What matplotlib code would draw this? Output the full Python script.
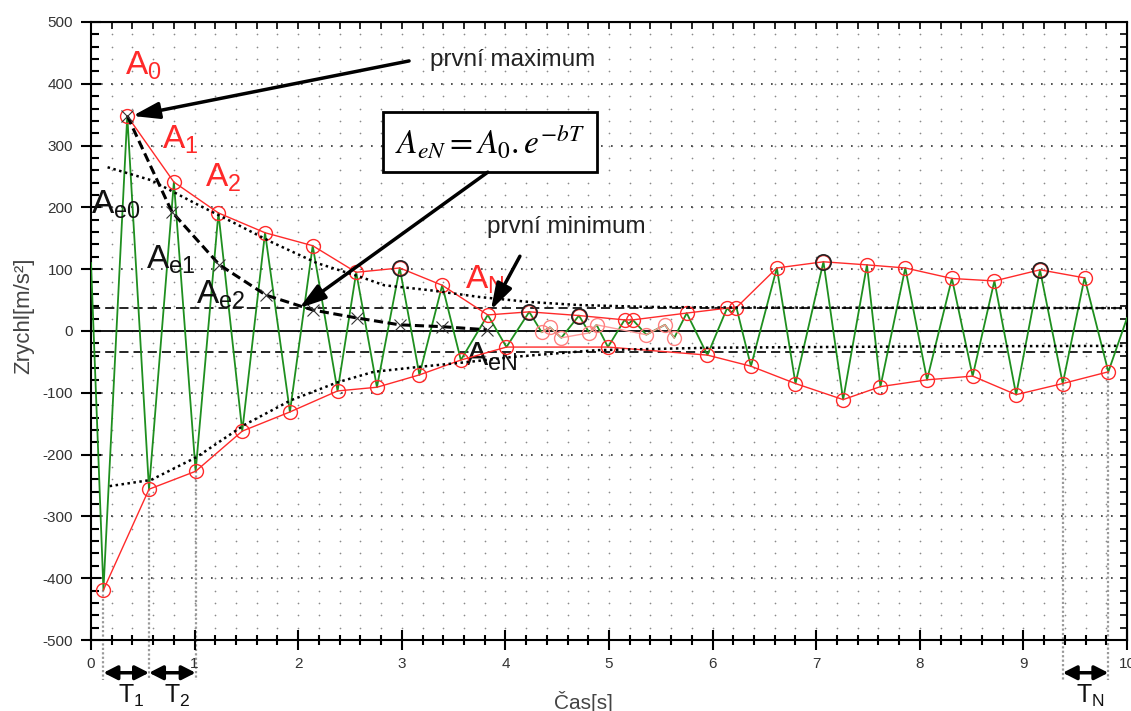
import matplotlib
matplotlib.use("Agg")
import matplotlib.pyplot as plt
import numpy as np

plt.rcParams['font.family'] = ['Liberation Sans', 'DejaVu Sans']
plt.rcParams['mathtext.fontset'] = 'stix'

# measured signal (local extrema of the acceleration record)
t_sig = [0.0, 0.12, 0.35, 0.56, 0.80, 1.01, 1.23, 1.46, 1.68, 1.92, 2.14, 2.38, 2.56, 2.76,
         2.98, 3.17, 3.39, 3.57, 3.83, 4.01, 4.23, 4.35, 4.43, 4.54, 4.71, 4.81, 4.88, 4.99,
         5.15, 5.19, 5.23, 5.36, 5.54, 5.63, 5.75, 5.95, 6.14, 6.18, 6.23, 6.37, 6.62, 6.80,
         7.07, 7.26, 7.49, 7.62, 7.86, 8.07, 8.31, 8.51, 8.72, 8.93, 9.16, 9.38, 9.59, 9.82, 10.0]
a_sig = [110, -419, 348, -256, 241, -227, 191, -162, 159, -131, 138, -97, 95, -91,
         102, -71, 74, -47, 26, -26, 31, -2, 6, -11, 25, -3, 10, -26,
         18, 12, 18, -6, 10, -11, 29, -39, 37, 30, 38, -57, 102, -85,
         112, -111, 107, -90, 102, -79, 85, -73, 81, -103, 99, -85, 86, -66, 21]

# upper envelope (maxima)
t_max = [0.35, 0.80, 1.23, 1.68, 2.14, 2.56, 2.98, 3.39, 3.83, 4.23, 4.71, 5.15, 5.23, 5.75,
         6.14, 6.23, 6.62, 7.07, 7.49, 7.86, 8.31, 8.72, 9.16, 9.59]
a_max = [348, 241, 191, 159, 138, 95, 102, 74, 26, 31, 25, 18, 18, 29,
         37, 38, 102, 112, 107, 102, 85, 81, 99, 86]

# lower envelope (minima)
t_min = [0.12, 0.56, 1.01, 1.46, 1.92, 2.38, 2.76, 3.17, 3.57, 4.01, 4.99, 5.95, 6.37, 6.80,
         7.26, 7.62, 8.07, 8.51, 8.93, 9.38, 9.82]
a_min = [-419, -256, -227, -162, -131, -97, -91, -71, -47, -26, -26, -39, -57, -85,
         -111, -90, -79, -73, -103, -85, -66]

# small oscillation extrema in the middle
t_mid = [4.35, 4.43, 4.54, 4.81, 4.88, 5.36, 5.54, 5.63]
a_mid = [-2, 6, -11, -3, 10, -6, 10, -11]

# highlighted maxima (black rings)
t_hl = [2.98, 4.23, 4.71, 7.07, 9.16]
a_hl = [102, 31, 25, 112, 99]

# A_e = A0 e^{-bT} points
t_ae = [0.35, 0.78, 1.24, 1.69, 2.14, 2.57, 2.98, 3.39, 3.82]
a_ae = [348, 193, 107, 58, 34, 21, 10, 7, 2]

# fitted envelopes (dotted)
t_fu = [0.16, 0.58, 1.0, 1.38, 1.74, 2.18, 2.61, 2.83, 3.27, 3.75, 4.23, 4.71, 5.36, 6.16, 10.0]
a_fu = [265, 244, 207, 175, 144, 110, 87, 74, 66, 55, 47, 42, 39, 38, 37]
t_fl = [0.18, 0.58, 1.02, 1.48, 1.93, 2.38, 2.73, 3.17, 3.65, 4.07, 4.88, 6.0, 7.0, 8.0, 10.0]
a_fl = [-251, -241, -204, -152, -112, -83, -66, -58, -50, -42, -31, -27, -26, -25, -24]

level_up = 37
level_lo = -34

# periods
t_per = [0.12, 0.56, 1.01, 9.38, 9.82]
a_per = [-419, -256, -227, -85, -66]

fig = plt.figure(figsize=(11.31, 7.11), dpi=100)
ax = fig.add_axes([91/1131, 1-640/711, (1127-91)/1131, (640-22)/711])
ax.set_xlim(0, 10)
ax.set_ylim(-500, 500)

# grid: dots at minor intersections, dotted major rows
gx, gy = np.meshgrid(np.arange(0, 10.01, 0.2), np.arange(-480, 500, 20))
ax.scatter(gx.ravel(), gy.ravel(), s=1.5, c='#8a8a8a', linewidths=0, zorder=0)
for yy in range(-400, 500, 100):
    if yy != 0:
        ax.axhline(yy, color='#333333', lw=1.2, ls=(0, (1, 5)), zorder=0)

ax.axhline(0, color='k', lw=1.3, zorder=1)
ax.axhline(level_up, color='k', lw=1.2, ls=(0, (5.5, 3)), zorder=1)
ax.axhline(level_lo, color='k', lw=1.2, ls=(0, (5.5, 3)), zorder=1)

# vertical period markers
for tp, ap in zip(t_per, a_per):
    ax.plot([tp, tp], [ap, -565], color='#9a9a9a', lw=1.6, ls=(0, (1, 1)),
            clip_on=False, zorder=1)

ax.plot(t_sig, a_sig, color='#1f8f1f', lw=1.3, zorder=3)
ax.plot(t_max, a_max, color='#ff2a2a', lw=1, marker='o', ms=10, mfc='none',
        mec='#ff2a2a', mew=1, zorder=4)
ax.plot(t_min, a_min, color='#ff2a2a', lw=1, marker='o', ms=10, mfc='none',
        mec='#ff2a2a', mew=1, zorder=4)
ax.plot(t_mid, a_mid, color='#ff9a9a', lw=1, marker='o', ms=10, mfc='none',
        mec='#ff8080', mew=1, zorder=4)
ax.plot(t_hl, a_hl, ls='none', marker='o', ms=11, mfc='none', mec='#222222', mew=1.2, zorder=5)

ax.plot(t_ae, a_ae, color='k', lw=2.2, ls=(0, (3, 1.5)), zorder=5)
ax.plot(t_ae, a_ae, ls='none', marker='x', ms=9, mec='#333333', mew=0.8, zorder=5)
ax.plot(t_fu, a_fu, color='k', lw=1.8, ls=(0, (1, 1.4)), zorder=5)
ax.plot(t_fl, a_fl, color='k', lw=1.8, ls=(0, (1, 1.4)), zorder=5)

# axes styling
for s in ax.spines.values():
    s.set_linewidth(1.5)
ax.set_xticks(range(0, 11))
ax.set_xticks(np.arange(0, 10.01, 0.2), minor=True)
ax.set_yticks(range(-500, 501, 100))
ax.set_yticks(range(-500, 501, 20), minor=True)
ax.tick_params(axis='x', which='major', direction='inout', length=14, width=1.5, pad=5,
               labelsize=11, labelcolor='#333333')
ax.tick_params(axis='x', which='minor', direction='inout', length=7, width=1.5)
ax.tick_params(axis='y', which='major', direction='inout', length=14, width=1.5, pad=6,
               labelsize=11, labelcolor='#333333')
ax.tick_params(axis='y', which='minor', direction='in', length=6, width=1.5)
ax.set_yticklabels([str(v) for v in range(-500, 501, 100)])
ax.set_xticklabels([str(v) for v in range(0, 11)])

sx = ax.secondary_xaxis('top')
sx.set_xticks(np.arange(0, 10.01, 0.2))
sx.tick_params(direction='in', length=5, width=1.2, labeltop=False)
sy = ax.secondary_yaxis('right')
sy.set_yticks(range(-500, 501, 20))
sy.tick_params(direction='in', length=5, width=1.2, labelright=False)

fig.text(583/1131, 1-702/711, 'Čas[s]', fontsize=15, color='#444444', ha='center', va='center')
fig.text(24/1131, 1-316/711, 'Zrychl[m/s²]', fontsize=16, color='#444444', rotation=90,
         ha='center', va='center')

# annotations
red = '#ff2a2a'
fs_a = 24
ax.text(0.51, 429, r'$\mathregular{A_0}$', color=red, fontsize=fs_a, ha='center', va='center')
ax.text(0.86, 309, r'$\mathregular{A_1}$', color=red, fontsize=fs_a, ha='center', va='center')
ax.text(1.28, 248, r'$\mathregular{A_2}$', color=red, fontsize=fs_a, ha='center', va='center')
ax.text(3.80, 83, r'$\mathregular{A_N}$', color=red, fontsize=fs_a, ha='center', va='center')
ax.text(0.24, 204, r'$\mathregular{A_{e0}}$', color='#111111', fontsize=fs_a, ha='center', va='center')
ax.text(0.77, 115, r'$\mathregular{A_{e1}}$', color='#111111', fontsize=fs_a, ha='center', va='center')
ax.text(1.25, 58, r'$\mathregular{A_{e2}}$', color='#111111', fontsize=fs_a, ha='center', va='center')
ax.text(3.86, -42, r'$\mathregular{A_{eN}}$', color='#111111', fontsize=fs_a, ha='center', va='center')

ax.text(3.27, 438, 'první maximum', fontsize=17.5, color='#222222', ha='left', va='center')
ax.text(3.82, 168, 'první minimum', fontsize=17.5, color='#222222', ha='left', va='center')
ax.text(3.85, 306, r'$A_{eN} = A_0 .e^{-bT}$', fontsize=24, ha='center', va='center', zorder=8,
        bbox=dict(boxstyle='square,pad=0.35', fc='white', ec='k', lw=2))

arr = dict(arrowstyle='-|>,head_length=0.8,head_width=0.25', color='k', lw=2.5,
           mutation_scale=20, shrinkA=0, shrinkB=0)
ax.annotate('', xy=(0.40, 348), xytext=(3.07, 437), arrowprops=arr, zorder=9)
ax.annotate('', xy=(2.01, 37), xytext=(3.83, 257), arrowprops=arr, zorder=9)
ax.annotate('', xy=(3.86, 34), xytext=(4.14, 121), arrowprops=arr, zorder=9)

darr = dict(arrowstyle='<|-|>,head_length=0.55,head_width=0.28', color='k', lw=2.5,
            mutation_scale=15, shrinkA=0, shrinkB=0)
for (x0, x1, lab) in [(0.12, 0.56, r'$\mathregular{T_1}$'), (0.56, 1.01, r'$\mathregular{T_2}$'),
                      (9.38, 9.82, r'$\mathregular{T_N}$')]:
    ax.annotate('', xy=(x1, -553), xytext=(x0, -553), arrowprops=darr, annotation_clip=False)
    ax.text((x0 + x1) / 2 + 0.05, -590, lab, fontsize=18, color='#111111', ha='center',
            va='center', clip_on=False)

fig.savefig('out.png', dpi=100)
